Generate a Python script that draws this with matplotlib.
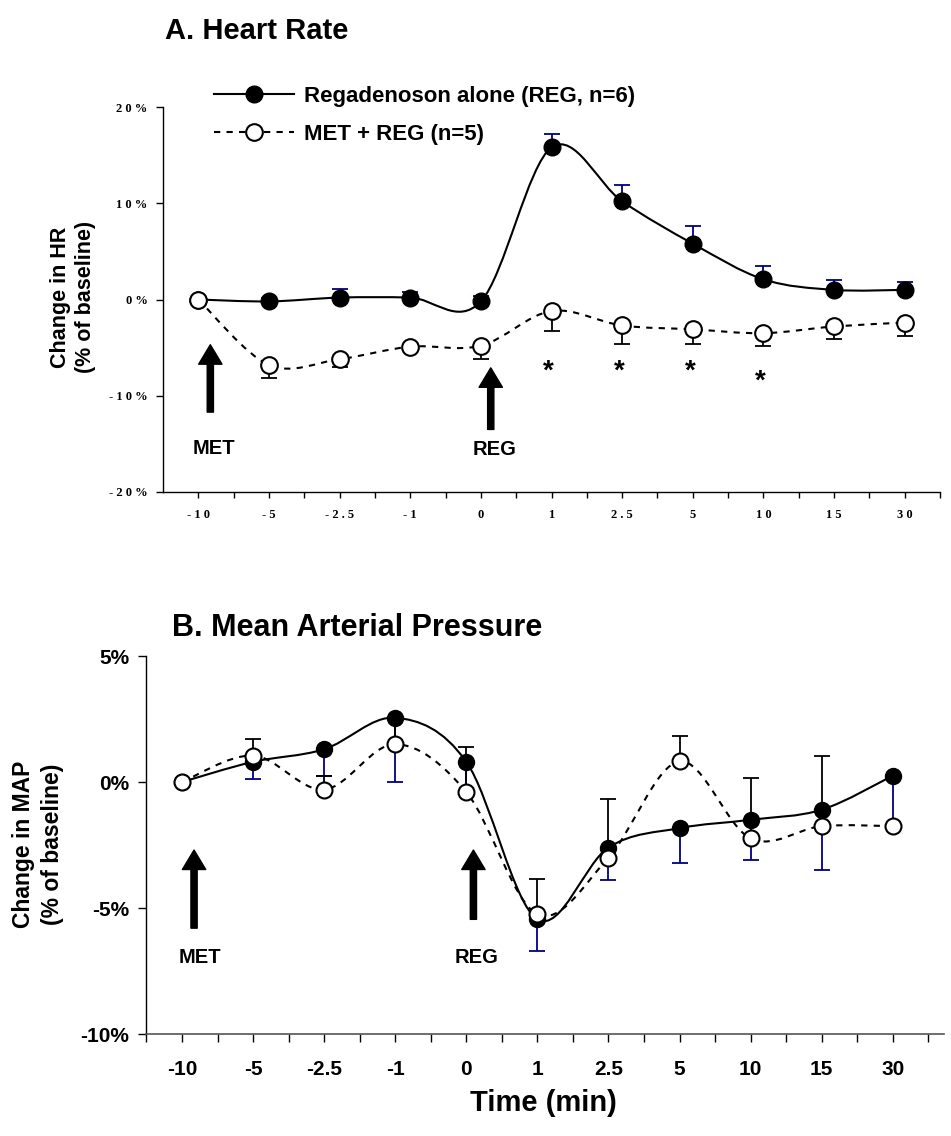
import numpy as np
import matplotlib
matplotlib.use("Agg")
import matplotlib.pyplot as plt
from matplotlib.path import Path
from matplotlib.patches import PathPatch
from matplotlib.lines import Line2D

plt.rcParams['font.family'] = ['Liberation Sans', 'DejaVu Sans']
plt.rcParams['font.weight'] = 'bold'

# time points (min), plotted as categories
times = ["-10", "-5", "-2.5", "-1", "0", "1", "2.5", "5", "10", "15", "30"]

# A. heart rate, % change from baseline
hr_reg = [0.0, -0.2, 0.2, 0.2, -0.2, 15.8, 10.2, 5.8, 2.1, 1.0, 1.0]
hr_reg_up = [0.0, 0.4, 0.9, 0.6, 0.6, 1.4, 1.7, 1.8, 1.4, 1.0, 0.8]
hr_met = [0.0, -6.8, -6.2, -4.9, -4.8, -1.2, -2.7, -3.1, -3.5, -2.8, -2.4]
hr_met_lo = [0.0, 1.4, 0.8, 0.3, 1.4, 2.1, 1.9, 1.5, 1.3, 1.3, 1.35]
star_idx = [5, 6, 7, 8]
star_y = [-7.5, -7.5, -7.5, -8.5]

# B. mean arterial pressure, % change from baseline
map_reg = [0.0, 0.8, 1.3, 2.55, 0.8, -5.45, -2.6, -1.83, -1.5, -1.1, 0.25]
map_reg_lo = [0.0, 0.7, 1.05, 2.55, 1.2, 1.25, 1.3, 1.37, 1.6, 2.4, 2.0]
map_met = [0.0, 1.05, -0.3, 1.5, -0.4, -5.25, -3.0, 0.82, -2.24, -1.75, -1.75]
map_met_up = [0.0, 0.65, 0.55, 1.0, 1.8, 1.4, 2.33, 1.0, 2.4, 2.77, 0.0]

hr_yticks = [-20, -10, 0, 10, 20]
map_yticks = [-10, -5, 0, 5]

NAVY = '#000080'
SERIF = ['Liberation Serif', 'DejaVu Serif']
x = np.arange(len(times))


def smooth_path(xs, ys):
    # excel-like smoothed line (bezier through the points)
    xs = np.asarray(xs, float)
    ys = np.asarray(ys, float)
    n = len(xs)
    pts = np.column_stack([xs, ys])
    verts = [tuple(pts[0])]
    codes = [Path.MOVETO]
    for i in range(n - 1):
        p0 = pts[max(i - 1, 0)]
        p1 = pts[i]
        p2 = pts[i + 1]
        p3 = pts[min(i + 2, n - 1)]
        c1 = p1 + (p2 - p0) / 6.0
        c2 = p2 - (p3 - p1) / 6.0
        verts += [tuple(c1), tuple(c2), tuple(p2)]
        codes += [Path.CURVE4] * 3
    return Path(verts, codes)


def spaced(s):
    # letter-spaced tick text like the original
    return ' '.join(s)


def arrow(ax, xa, y0, y1):
    ax.annotate('', xy=(xa, y1), xytext=(xa, y0),
                arrowprops=dict(arrowstyle='simple,head_length=1.0,head_width=1.2,tail_width=0.32',
                                color='black', shrinkA=0, shrinkB=0, mutation_scale=14), zorder=6)


fig = plt.figure(figsize=(9.51, 11.36), dpi=100)

# ---------------- panel A ----------------
axA = fig.add_axes([163 / 951, 1 - 492 / 1136, 777 / 951, 385 / 1136])
axA.add_patch(PathPatch(smooth_path(x, hr_reg), fill=False, lw=1.5, color='black', zorder=2))
axA.add_patch(PathPatch(smooth_path(x, hr_met), fill=False, lw=1.5, color='black',
                        linestyle=(0, (3, 3)), zorder=2))
axA.errorbar(x, hr_reg, yerr=[np.zeros(len(x)), hr_reg_up], fmt='none', ecolor=NAVY,
             elinewidth=1.3, capsize=5.5, capthick=1.3, zorder=3)
axA.errorbar(x, hr_met, yerr=[hr_met_lo, np.zeros(len(x))], fmt='none', ecolor='black',
             elinewidth=1.3, capsize=5.5, capthick=1.3, zorder=3)
axA.plot(x, hr_reg, 'o', ms=12, mfc='black', mec='black', zorder=4)
axA.plot(x, hr_met, 'o', ms=12, mfc='white', mec='black', mew=1.5, zorder=5)

for i, ys in zip(star_idx, star_y):
    axA.text(i - 0.04, ys, '*', fontsize=20, ha='center', va='center')

arrow(axA, 0.17, -11.7, -4.7)
arrow(axA, 4.14, -13.5, -7.1)
axA.text(0.22, -15.5, 'MET', fontsize=14.5, ha='center', va='center')
axA.text(4.2, -15.6, 'REG', fontsize=14.5, ha='center', va='center')

axA.set_xlim(-0.5, 10.5)
axA.set_ylim(-20, 20)
axA.set_xticks(x)
axA.set_xticks(x + 0.5, minor=True)
axA.set_xticklabels([spaced(t) for t in times], family=SERIF, fontsize=9)
axA.set_yticks(hr_yticks)
axA.set_yticklabels([spaced(f'{v}%') for v in hr_yticks], family=SERIF, fontsize=9)
axA.tick_params(axis='x', which='both', direction='out', length=4, width=1, pad=8)
axA.tick_params(axis='y', direction='out', length=5, width=1, pad=6)
for s in ['top', 'right']:
    axA.spines[s].set_visible(False)
axA.spines['left'].set_linewidth(1)
axA.spines['bottom'].set_linewidth(1)

handles = [Line2D([], [], color='black', lw=1.5, marker='o', ms=12, mfc='black'),
           Line2D([], [], color='black', lw=1.5, ls=(0, (3, 3)), marker='o', ms=12,
                  mfc='white', mew=1.5)]
fig.legend(handles, ['Regadenoson alone (REG, n=6)', 'MET + REG (n=5)'],
           loc='upper left', bbox_to_anchor=(214 / 951, 1 - 86 / 1136), frameon=False,
           fontsize=16, handlelength=3.6, handletextpad=0.45, labelspacing=0.75,
           borderpad=0, borderaxespad=0)

fig.text(165 / 951, 1 - 31 / 1136, 'A. Heart Rate', fontsize=21, ha='left', va='center')
fig.text(73 / 951, 1 - 297 / 1136, 'Change in HR\n(% of baseline)', fontsize=15.5,
         rotation=90, ha='center', va='center', multialignment='center', linespacing=1.3)

# ---------------- panel B ----------------
axB = fig.add_axes([146 / 951, 1 - 1034 / 1136, 798 / 951, 378 / 1136])
axB.add_patch(PathPatch(smooth_path(x, map_met), fill=False, lw=1.5, color='black',
                        linestyle=(0, (3, 3)), zorder=2))
axB.add_patch(PathPatch(smooth_path(x, map_reg), fill=False, lw=1.5, color='black', zorder=2))
axB.errorbar(x, map_reg, yerr=[map_reg_lo, np.zeros(len(x))], fmt='none', ecolor=NAVY,
             elinewidth=1.3, capsize=5.5, capthick=1.3, zorder=3)
axB.errorbar(x, map_met, yerr=[np.zeros(len(x)), map_met_up], fmt='none', ecolor='black',
             elinewidth=1.3, capsize=5.5, capthick=1.3, zorder=3.5)
axB.plot(x, map_reg, 'o', ms=11.5, mfc='black', mec='black', zorder=4)
axB.plot(x, map_met, 'o', ms=11.5, mfc='white', mec='black', mew=1.5, zorder=5)

arrow(axB, 0.17, -5.8, -2.7)
arrow(axB, 4.1, -5.45, -2.7)
axB.text(0.25, -6.95, 'MET', fontsize=14.5, ha='center', va='center')
axB.text(4.15, -6.95, 'REG', fontsize=14.5, ha='center', va='center')

axB.set_xlim(-0.506, 10.72)
axB.set_ylim(-10, 5)
axB.set_xticks(x)
axB.set_xticks(np.append(x[:-1] + 0.5, [-0.5, 10.5]), minor=True)
axB.set_xticklabels(times, fontsize=15)
axB.set_yticks(map_yticks)
axB.set_yticklabels([f'{v}%' for v in map_yticks], fontsize=15)
axB.tick_params(axis='x', which='both', direction='out', length=6, width=1, pad=13)
axB.tick_params(axis='y', direction='out', length=6, width=1, pad=6)
for s in ['top', 'right']:
    axB.spines[s].set_visible(False)
axB.spines['left'].set_linewidth(1)
axB.spines['bottom'].set_linewidth(1.2)
axB.spines['bottom'].set_color('#555555')

fig.text(172 / 951, 1 - 628 / 1136, 'B. Mean Arterial Pressure', fontsize=22, ha='left', va='center')
fig.text(38 / 951, 1 - 844 / 1136, 'Change in MAP\n(% of baseline)', fontsize=16.5,
         rotation=90, ha='center', va='center', multialignment='center', linespacing=1.35)
fig.text(543 / 951, 1 - 1103 / 1136, 'Time (min)', fontsize=21, ha='center', va='center')

fig.savefig('out.png', dpi=100)
